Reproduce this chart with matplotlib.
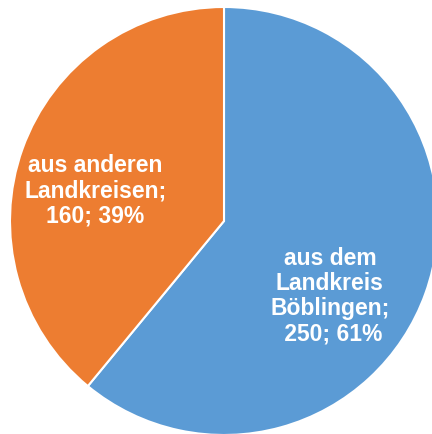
import matplotlib.pyplot as plt

labels = ["aus dem\nLandkreis\nBöblingen;\n 250; 61%", "aus anderen\nLandkreisen;\n160; 39%"]
values = [250, 160]
colors = ["#5B9BD5", "#ED7D31"]

plt.rcParams['font.family'] = ['Liberation Sans', 'DejaVu Sans']

fig = plt.figure(figsize=(4.32, 4.35), dpi=100)
# pie center at (224, 222) px from top-left, radius ~214 px
ax = fig.add_axes([10 / 432, -1 / 435, 428 / 432, 428 / 435])
wedges, _ = ax.pie(values, colors=colors, startangle=90, counterclock=False,
                   wedgeprops=dict(edgecolor="white", linewidth=1.5), radius=1)
for w in wedges:
    w.set_clip_on(False)
ax.set_xlim(-1, 1)
ax.set_ylim(-1, 1)
ax.set_aspect('auto')
ax.axis('off')

label_pos = [(0.495, -0.345), (-0.60, 0.145)]
for (x, y), lab in zip(label_pos, labels):
    ax.text(x, y, lab, ha='center', va='center', color='white',
            fontsize=16.5, fontweight='bold', linespacing=1.12)

fig.savefig("out.png", dpi=100)
